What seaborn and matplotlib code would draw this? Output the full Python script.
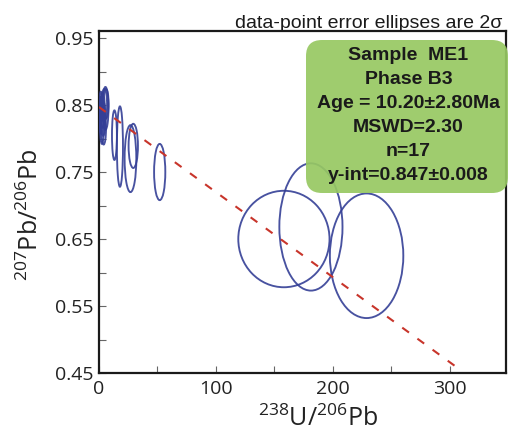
import numpy as np
import matplotlib
matplotlib.use("Agg")
import matplotlib.pyplot as plt
from matplotlib.patches import Ellipse, FancyBboxPatch
from matplotlib.transforms import IdentityTransform
from matplotlib.ticker import MultipleLocator, FormatStrFormatter
import seaborn as sns

# --- Tera-Wasserburg data: ellipse centres and 2-sigma half-axes -------------
u238_pb206 = [2.0, 3.0, 4.5, 2.5, 5.5, 1.5, 3.5, 6.0, 4.0,
              13.2, 17.9, 26.9, 29.3, 51.9,
              158.1, 181.2, 228.8]
pb207_pb206 = [0.835, 0.842, 0.850, 0.822, 0.845, 0.848, 0.830, 0.852, 0.815,
               0.805, 0.788, 0.770, 0.789, 0.750,
               0.650, 0.668, 0.625]
err_x = [1.6, 2.0, 2.4, 1.8, 2.6, 1.4, 2.0, 2.2, 2.0,
         2.1, 2.6, 5.0, 4.0, 4.8,
         39.0, 27.0, 31.4]
err_y = [0.028, 0.026, 0.024, 0.030, 0.032, 0.022, 0.026, 0.022, 0.024,
         0.037, 0.060, 0.050, 0.033, 0.042,
         0.072, 0.095, 0.093]

# regression (discordia) line
y_intercept = 0.847
slope = -0.00127
line_x = [0, 304]

label_lines = ["Sample  ME1", "Phase B3", "Age = 10.20\u00b12.80Ma",
               "MSWD=2.30", "n=17", "y-int=0.847\u00b10.008"]

x_ticks = [0, 100, 200, 300]
y_ticks = [0.45, 0.55, 0.65, 0.75, 0.85, 0.95]

# --- style -------------------------------------------------------------------
sns.set_style("ticks")
plt.rcParams["font.family"] = ["Open Sans", "DejaVu Sans"]
plt.rcParams["mathtext.fontset"] = "custom"
plt.rcParams["mathtext.rm"] = "Open Sans"
plt.rcParams["mathtext.it"] = "Open Sans:italic"
plt.rcParams["mathtext.bf"] = "Open Sans:bold"

W, H = 509, 437
fig = plt.figure(figsize=(W / 100, H / 100), dpi=100)
ax = fig.add_axes([99 / W, 1 - 373 / H, 407 / W, 342 / H])

ell_color = "#343f96"
for cx, cy, ex, ey in zip(u238_pb206, pb207_pb206, err_x, err_y):
    e = Ellipse((cx, cy), 2 * ex, 2 * ey, fill=False,
                edgecolor=ell_color, linewidth=1.35, alpha=0.9, zorder=3)
    ax.add_patch(e)

line_y = [y_intercept + slope * v for v in line_x]
sns.lineplot(x=line_x, y=line_y, ax=ax, color="#c8352b", linewidth=1.5,
             zorder=4)
ax.lines[-1].set_dashes([4, 5])

ax.set_xlim(0, 348)
ax.set_ylim(0.45, 0.9605)
ax.set_xticks(x_ticks)
ax.set_yticks(y_ticks)
ax.xaxis.set_minor_locator(MultipleLocator(50))
ax.yaxis.set_minor_locator(MultipleLocator(0.1))
ax.yaxis.set_major_formatter(FormatStrFormatter("%.2f"))
ax.tick_params(which="both", direction="in", length=5, width=0.8,
               color="#666666", labelsize=14, labelcolor="#222222")
ax.tick_params(axis="y", pad=4)
ax.tick_params(axis="x", pad=5)
for s in ax.spines.values():
    s.set_linewidth(1.6)
    s.set_color("#1a1a1a")

ax.set_xlabel(r"$^{238}$U/$^{206}$Pb", fontsize=18, color="#222222")
ax.set_ylabel(r"$^{207}$Pb/$^{206}$Pb", fontsize=18, color="#222222")
ax.xaxis.set_label_coords(0.538, -0.095)
ax.yaxis.set_label_coords(-0.135, 0.462)

# annotation box with the age result
box = FancyBboxPatch((306, H - 193), 202, 153,
                     boxstyle="round,pad=0,rounding_size=16",
                     transform=IdentityTransform(), facecolor="#97c862",
                     edgecolor="none", alpha=0.92, zorder=10)
fig.patches.append(box)
baselines = [60, 84, 108, 132, 156, 180]
for txt, b in zip(label_lines, baselines):
    fig.text(408.5 / W, 1 - b / H, txt, ha="center", va="baseline",
             fontsize=14, fontweight="bold", color="#1a1a1a",
             family=["Liberation Sans", "DejaVu Sans"], zorder=11)

fig.text(502 / W, 1 - 28 / H, "data-point error ellipses are 2\u03c3",
         ha="right", va="baseline", fontsize=14, color="#1a1a1a",
         family=["Liberation Sans", "DejaVu Sans"])

fig.savefig("out.png", dpi=100)
